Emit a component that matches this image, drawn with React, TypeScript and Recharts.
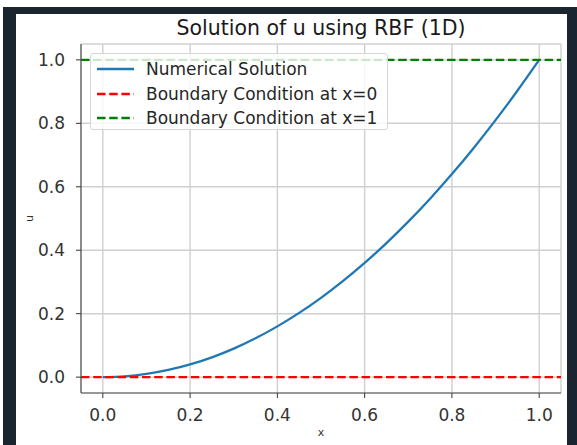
import * as React from 'react'
import {
  LineChart,
  Line,
  XAxis,
  YAxis,
  CartesianGrid,
  ReferenceLine,
  Legend } from 'recharts';

// values
const xValues = [0, 0.05, 0.1, 0.15, 0.2, 0.25, 0.3, 0.35, 0.4, 0.45, 0.5, 0.55, 0.6, 0.65, 0.7, 0.75, 0.8, 0.85, 0.9, 0.95, 1];
const uValues = [0, 0.0025, 0.01, 0.0225, 0.04, 0.0625, 0.09, 0.1225, 0.16, 0.2025, 0.25, 0.3025, 0.36, 0.4225, 0.49, 0.5625, 0.64, 0.7225, 0.81, 0.9025, 1];
const xTicks = [0, 0.2, 0.4, 0.6, 0.8, 1];
const yTicks = [0, 0.2, 0.4, 0.6, 0.8, 1];
const boundaryLeft = 0;
const boundaryRight = 1;
const legendLabels = ['Numerical Solution', 'Boundary Condition at x=0', 'Boundary Condition at x=1'];
const title = 'Solution of u using RBF (1D)';

const data = xValues.map((x, i) => ({ x, u: uValues[i] }));

const FONT = '"DejaVu Sans", sans-serif';
const BLUE = '#1f77b4';
const RED = '#ff0000';
const GREEN = '#008000';
const DASH = '8.5 3.7';

const legendStyles = [
  { color: BLUE, dash: undefined },
  { color: RED, dash: DASH },
  { color: GREEN, dash: DASH },
];

const LegendBox = () => (
  <div style={{
    width: 298, height: 77, boxSizing: 'border-box',
    background: 'rgba(255,255,255,0.8)', border: '1px solid #d6d6d6', borderRadius: 3,
    position: 'relative', fontFamily: FONT, fontSize: 17, color: '#262626'
  }}>
    {legendLabels.map((label, i) => (
      <div key={label} style={{ position: 'absolute', left: 5, top: 4 + i * 24.5, height: 22, display: 'flex', alignItems: 'center', whiteSpace: 'nowrap' }}>
        <svg width={38} height={8} style={{ marginRight: 12 }}>
          <line x1={1} y1={4} x2={38} y2={4} stroke={legendStyles[i].color} strokeWidth={2.3} strokeDasharray={legendStyles[i].dash} />
        </svg>
        <span>{label}</span>
      </div>
    ))}
  </div>
);

const App = () => {
  return (
    <div style={{ position: 'absolute', left: 0, top: 0, width: 577, height: 445, background: '#ffffff', overflow: 'hidden' }}>
      <div style={{ position: 'absolute', left: 3, top: 7, width: 574, height: 438, background: '#1b2530' }} />
      <div style={{ position: 'absolute', left: 16, top: 14, width: 551, height: 431, background: '#ffffff' }} />
      <div style={{
        position: 'absolute', left: 81, top: 18, width: 480, textAlign: 'center',
        fontFamily: FONT, fontSize: 20.5, lineHeight: '20.5px', color: '#1a1a1a', whiteSpace: 'nowrap'
      }}>{title}</div>
      <div style={{ position: 'absolute', left: 0, top: 0 }}>
        <LineChart width={577} height={445} data={data} margin={{ top: 44, right: 16, left: 21, bottom: 0 }}>
          <CartesianGrid stroke="#d0d0d0" strokeWidth={1.4} />
          <XAxis
            dataKey="x" type="number" domain={[-0.05, 1.05]} ticks={xTicks} allowDataOverflow
            tickFormatter={(v: number) => v.toFixed(1)}
            height={52} tickSize={5} tickMargin={11}
            axisLine={{ stroke: '#555', strokeWidth: 1.2 }} tickLine={{ stroke: '#333' }}
            tick={{ fill: '#333', fontSize: 17, fontFamily: FONT }}
            label={{ value: 'x', position: 'insideBottom', offset: 9, fill: '#333', fontSize: 11, fontFamily: FONT }}
          />
          <XAxis
            xAxisId="top" orientation="top" type="number" domain={[-0.05, 1.05]} height={0}
            tick={false} tickLine={false} axisLine={{ stroke: '#555', strokeWidth: 1.2 }}
          />
          <YAxis
            type="number" domain={[-0.05, 1.05]} ticks={yTicks} allowDataOverflow
            tickFormatter={(v: number) => v.toFixed(1)}
            width={60} tickSize={5} tickMargin={11}
            axisLine={{ stroke: '#555', strokeWidth: 1.2 }} tickLine={{ stroke: '#333' }}
            tick={{ fill: '#333', fontSize: 17, fontFamily: FONT }}
            label={{ value: 'u', angle: -90, position: 'center', dx: -22, fill: '#333', fontSize: 11, fontFamily: FONT }}
          />
          <YAxis
            yAxisId="right" orientation="right" type="number" domain={[-0.05, 1.05]} width={0}
            tick={false} tickLine={false} axisLine={{ stroke: '#555', strokeWidth: 1.2 }}
          />
          <Line type="monotone" dataKey="u" stroke={BLUE} strokeWidth={2.3} dot={false} isAnimationActive={false} />
          <ReferenceLine y={boundaryLeft} stroke={RED} strokeWidth={2.3} strokeDasharray={DASH} />
          <ReferenceLine y={boundaryRight} stroke={GREEN} strokeWidth={2.3} strokeDasharray={DASH} />
          <Legend
            layout="horizontal" verticalAlign="middle" align="center"
            wrapperStyle={{ top: 53, left: 90, width: 298, height: 77 }}
            content={() => <LegendBox />}
          />
        </LineChart>
      </div>
    </div>
  )
}

export default App;
